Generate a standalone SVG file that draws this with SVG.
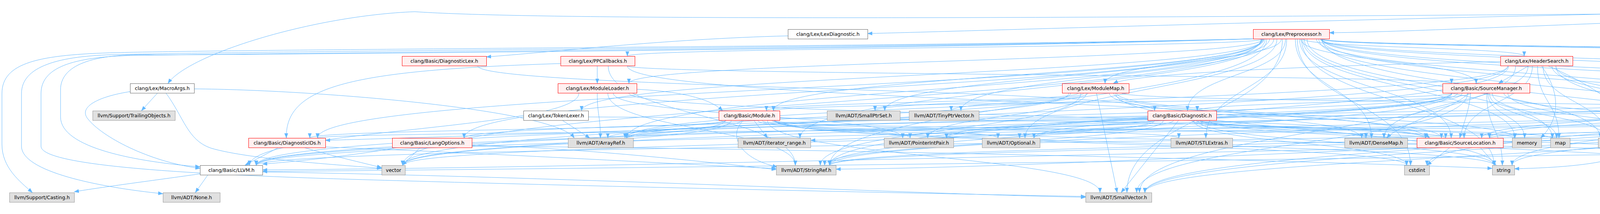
<svg xmlns="http://www.w3.org/2000/svg" width="6455" height="549" viewBox="0 0 6455 549">
<style>
.e{fill:none;stroke:#63b8ff;stroke-width:1;marker-end:url(#ah)}
.node rect{stroke-width:1}
.w rect{fill:#ffffff;stroke:#666666}
.r rect{fill:#fff0f0;stroke:#ff0000}
.x rect{fill:#e0e0e0;stroke:#999999}
.root rect{fill:#999999;stroke:#666666}
text{font-family:'DejaVu Sans','Liberation Sans',sans-serif;font-size:12.4px;text-anchor:middle;fill:#000000}
</style>
<defs>
<marker id="ah" viewBox="0 0 12 10" refX="12" refY="5" markerWidth="12" markerHeight="10" markerUnits="userSpaceOnUse" orient="auto"><path d="M0,0.5 L12,5 L0,9.5 z" fill="#63b8ff" stroke="#63b8ff" stroke-width="0.5"/></marker>
</defs>
<rect width="6455" height="549" fill="#ffffff"/>
<g id="edges">
<!-- root -->
<path class="e" d="M5766,24 C3500,40 1500,60 1062,30 C800,40 480,140 430,214"/>
<path class="e" d="M5766,14 C4500,14 2500,80 2221,86"/>
<path class="e" d="M5766,18 C4800,20 3700,82 3403,84"/>
<path class="e" d="M5815,29 C5700,80 5320,170 5299,214"/>
<path class="e" d="M5922,30 C6040,60 6088,100 6088,160 C6088,280 6010,300 5960,308 C5600,330 5300,360 5024,362"/>
<path class="e" d="M5922,28 L6178,75"/>
<path class="e" d="M5848,29 L5888,284"/>
<!-- MacroArgs.h -->
<path class="e" d="M333,235 C250,248 200,275 225,305 C260,350 380,415 512,432"/>
<path class="e" d="M497,228 C800,230 1420,280 1470,354"/>
<path class="e" d="M403,239 L362,284"/>
<path class="e" d="M425,239 C470,300 480,360 540,380 C640,410 900,425 977,432"/>
<!-- LexDiagnostic / DiagnosticLex -->
<path class="e" d="M2017,92 C1700,100 1400,135 1245,146"/>
<path class="e" d="M1223,169 C1223,227 2956,227 2956,284"/>
<!-- Preprocessor -->
<path class="e" d="M3291,100 C3291,192 3040,192 3040,284"/>
<path class="e" d="M3232,100 C3232,227 813,227 813,354"/>
<path class="e" d="M3370,100 C3370,192 4548,192 4548,284"/>
<path class="e" d="M3228,99 C2400,126 900,138 400,141 C230,135 155,170 155,230 L155,300 C155,380 350,415 512,428"/>
<path class="e" d="M3230,100 C3230,227 1188,227 1188,354"/>
<path class="e" d="M3236,100 C3236,192 1980,192 1980,284"/>
<path class="e" d="M3327,100 C3327,227 3715,227 3715,354"/>
<path class="e" d="M3330,100 C3330,157 3779,157 3779,214"/>
<path class="e" d="M3383,100 C3383,227 5263,227 5263,354"/>
<path class="e" d="M3336,100 C3336,122 3902,122 3902,144"/>
<path class="e" d="M3380,100 C3380,157 4792,157 4792,214"/>
<path class="e" d="M3382,100 C3382,157 5197,157 5197,214"/>
<path class="e" d="M3234,100 C3234,157 1610,157 1610,214"/>
<path class="e" d="M3280,100 C3280,157 2829,157 2829,214"/>
<path class="e" d="M3233,100 C3233,122 1606,122 1606,144"/>
<path class="e" d="M3384,100 C3384,192 5208,192 5208,284"/>
<path class="e" d="M3235,100 C3235,192 1489,192 1489,284"/>
<path class="e" d="M3231,100 C3231,227 1604,227 1604,354"/>
<path class="e" d="M3316,100 C3316,227 3511,227 3511,354"/>
<path class="e" d="M3385,100 C3385,192 5631,192 5631,284"/>
<path class="e" d="M3380,100 C3380,122 4722,122 4722,144"/>
<path class="e" d="M3228,99 C2400,122 700,130 300,140 C150,143 55,170 55,240 L55,375 C55,440 250,480 417,497"/>
<path class="e" d="M3269,100 C3269,227 2624,227 2624,354"/>
<path class="e" d="M3384,100 C3384,122 4941,122 4941,144"/>
<path class="e" d="M3294,100 C3294,227 3087,227 3087,354"/>
<path class="e" d="M3250,100 C3250,192 2265,192 2265,284"/>
<path class="e" d="M3228,99 C2400,124 800,135 350,142 C180,145 105,175 105,240 L105,375 C105,420 400,445 900,460 C1500,478 2300,495 2779,504"/>
<path class="e" d="M3283,100 C3283,297 2885,297 2885,494"/>
<path class="e" d="M3243,100 C3243,262 2124,262 2124,424"/>
<path class="e" d="M3261,100 C3261,192 2460,192 2460,284"/>
<path class="e" d="M3239,100 C3239,227 2048,227 2048,354"/>
<path class="e" d="M3376,100 C3376,227 4659,227 4659,354"/>
<path class="e" d="M3228,99 C2400,120 700,125 300,135 C100,140 5,160 5,240 L5,370 C5,430 50,465 83,494"/>
<path class="e" d="M3386,100 C3386,122 5141,122 5141,144"/>
<path class="e" d="M3385,100 C3385,262 4898,262 4898,424"/>
<path class="e" d="M3346,100 C3346,227 4097,227 4097,354"/>
<path class="e" d="M3321,100 C3321,262 3611,262 3611,424"/>
<path class="e" d="M3339,100 C3339,227 3974,227 3974,354"/>
<path class="e" d="M3335,100 C3335,227 3878,227 3878,354"/>
<path class="e" d="M3332,100 C3332,262 3825,262 3825,424"/>
<path class="e" d="M3228,100 C3228,262 1031,262 1031,424"/>
<!-- PPCallbacks -->
<path class="e" d="M1435,163 C900,180 730,220 733,354"/>
<path class="e" d="M1606,169 C1606,262 3650,262 3650,354"/>
<path class="e" d="M1606,169 C1606,192 3716,192 3716,214"/>
<path class="e" d="M1529,169 L1529,214"/>
<path class="e" d="M1557,169 C1557,297 2036,297 2036,424"/>
<!-- ModuleLoader -->
<path class="e" d="M1482,239 C1482,332 639,332 639,424"/>
<path class="e" d="M1630,229 C1750,235 1820,255 1850,284"/>
<path class="e" d="M1610,239 C1610,297 3650,297 3650,354"/>
<path class="e" d="M1529,239 C1529,297 1537,297 1537,354"/>
<path class="e" d="M1570,239 C1570,297 2311,297 2311,354"/>
<path class="e" d="M1556,239 C1556,332 2036,332 2036,424"/>
<!-- TokenLexer -->
<path class="e" d="M1506,300 C2600,305 3620,320 3660,354"/>
<path class="e" d="M1440,309 L1510,354"/>
<!-- HeaderSearch -->
<path class="e" d="M3923,169 C3923,262 3748,262 3748,354"/>
<path class="e" d="M3913,169 L3836,214"/>
<path class="e" d="M3841,158 C3300,170 2900,190 2850,214"/>
<path class="e" d="M3860,169 C3860,262 1604,262 1604,354"/>
<path class="e" d="M3912,169 C3912,262 3543,262 3543,354"/>
<path class="e" d="M3983,169 C3983,262 4881,262 4881,354"/>
<path class="e" d="M3880,169 C3880,332 2917,332 2917,494"/>
<path class="e" d="M3862,169 C3862,297 2124,297 2124,424"/>
<path class="e" d="M3973,169 C3973,262 4689,262 4689,354"/>
<path class="e" d="M3983,169 C3983,297 4898,297 4898,424"/>
<path class="e" d="M3950,169 C3950,262 4115,262 4115,354"/>
<path class="e" d="M3936,169 C3936,262 3991,262 3991,354"/>
<path class="e" d="M3946,169 C3990,230 4000,300 3944,354"/>
<path class="e" d="M3963,169 C4150,250 4200,330 4190,370 C4170,420 4000,430 3877,433"/>
<path class="e" d="M3860,169 C3860,297 1031,297 1031,424"/>
<!-- ModuleMap -->
<path class="e" d="M2872,239 C2872,262 4534,262 4534,284"/>
<path class="e" d="M2736,239 C2736,332 656,332 656,424"/>
<path class="e" d="M2760,239 C2760,262 1962,262 1962,284"/>
<path class="e" d="M2851,239 C2851,297 3690,297 3690,354"/>
<path class="e" d="M2741,239 C2741,297 1600,297 1600,354"/>
<path class="e" d="M2840,239 C2840,297 3486,297 3486,354"/>
<path class="e" d="M2781,239 C2781,297 2375,297 2375,354"/>
<path class="e" d="M2774,239 C2774,262 2240,262 2240,284"/>
<path class="e" d="M2807,239 L2860,494"/>
<path class="e" d="M2767,239 C2767,332 2100,332 2100,424"/>
<path class="e" d="M2785,239 C2785,262 2435,262 2435,284"/>
<path class="e" d="M2859,239 C2859,297 3878,297 3878,354"/>
<path class="e" d="M2856,239 C2856,332 3825,332 3825,424"/>
<!-- SourceManager -->
<path class="e" d="M3765,239 C3765,262 3065,262 3065,284"/>
<path class="e" d="M3716,239 C3716,332 656,332 656,424"/>
<path class="e" d="M3718,239 C3718,262 1980,262 1980,284"/>
<path class="e" d="M3765,239 C3760,290 3745,320 3737,354"/>
<path class="e" d="M3717,239 C3717,297 1604,297 1604,354"/>
<path class="e" d="M3760,239 C3720,280 3580,320 3550,354"/>
<path class="e" d="M3743,239 C3743,297 2647,297 2647,354"/>
<path class="e" d="M3731,239 C3731,297 2423,297 2423,354"/>
<path class="e" d="M3757,239 C3757,367 2910,367 2910,494"/>
<path class="e" d="M3717,239 C3717,332 2124,332 2124,424"/>
<path class="e" d="M3850,239 C3850,297 4683,297 4683,354"/>
<path class="e" d="M3860,239 C3860,332 4898,332 4898,424"/>
<path class="e" d="M3820,239 C3820,297 4110,297 4110,354"/>
<path class="e" d="M3813,239 C3813,297 3985,297 3985,354"/>
<path class="e" d="M3809,239 C3809,297 3903,297 3903,354"/>
<path class="e" d="M3806,239 C3806,332 3846,332 3846,424"/>
<path class="e" d="M3716,239 C3716,332 1031,332 1031,424"/>
<!-- Lexer -->
<path class="e" d="M4792,239 C4792,297 1188,297 1188,354"/>
<path class="e" d="M4795,239 C4795,297 3793,297 3793,354"/>
<path class="e" d="M4876,239 C4876,297 5317,297 5317,354"/>
<path class="e" d="M4925,233 C5000,240 5100,268 5195,288"/>
<path class="e" d="M4793,239 C4793,297 2647,297 2647,354"/>
<path class="e" d="M4794,239 C4794,367 2931,367 2931,494"/>
<path class="e" d="M4795,239 C4795,332 2124,332 2124,424"/>
<path class="e" d="M4855,239 C4855,332 4921,332 4921,424"/>
<path class="e" d="M4792,239 C4792,332 3653,332 3653,424"/>
<path class="e" d="M4801,239 C4801,332 3871,332 3871,424"/>
<!-- MacroInfo -->
<path class="e" d="M5261,239 L5261,284"/>
<path class="e" d="M5197,239 C5197,332 656,332 656,424"/>
<path class="e" d="M5197,239 C5197,297 3813,297 3813,354"/>
<path class="e" d="M5198,239 C5198,297 1604,297 1604,354"/>
<path class="e" d="M5283,239 C5283,262 5673,262 5673,284"/>
<path class="e" d="M5199,239 C5199,297 2423,297 2423,354"/>
<path class="e" d="M5200,239 C5200,367 2931,367 2931,494"/>
<path class="e" d="M5234,239 C5234,297 4756,297 4756,354"/>
<path class="e" d="M5341,236 C5600,260 5750,280 5849,290"/>
<path class="e" d="M5244,239 C5244,332 4942,332 4942,424"/>
<!-- Token -->
<path class="e" d="M5208,309 C5208,332 3813,332 3813,354"/>
<path class="e" d="M5272,309 L5322,354"/>
<path class="e" d="M5208,309 C5208,367 2124,367 2124,424"/>
<path class="e" d="M5252,309 C5180,380 5050,425 4959,433"/>
<!-- Diagnostic -->
<path class="e" d="M2938,300 C2000,320 1200,350 833,360"/>
<path class="e" d="M3062,309 C3062,332 3701,332 3701,354"/>
<path class="e" d="M2956,309 C2956,332 1604,332 1604,354"/>
<path class="e" d="M3051,309 C3051,332 3497,332 3497,354"/>
<path class="e" d="M3004,309 C3004,332 2610,332 2610,354"/>
<path class="e" d="M3017,309 L2870,494"/>
<path class="e" d="M2978,309 C2978,367 2111,367 2111,424"/>
<path class="e" d="M2940,305 C2600,320 2300,355 2075,360"/>
<path class="e" d="M3096,309 C3096,367 4898,367 4898,424"/>
<path class="e" d="M3056,309 C3056,367 3601,367 3601,424"/>
<path class="e" d="M3074,309 C3074,332 3974,332 3974,354"/>
<path class="e" d="M3070,309 C3070,332 3878,332 3878,354"/>
<path class="e" d="M3067,309 C3067,367 3825,367 3825,424"/>
<path class="e" d="M2956,309 C2956,367 1031,367 1031,424"/>
<!-- DiagnosticIDs -->
<path class="e" d="M712,379 L627,424"/>
<path class="e" d="M833,377 C1300,395 1800,425 1987,432"/>
<path class="e" d="M780,379 C850,400 930,418 977,430"/>
<!-- LangOptions -->
<path class="e" d="M1015,379 C900,400 750,415 672,421"/>
<path class="e" d="M1208,372 C1500,380 1850,420 1987,435"/>
<path class="e" d="M1208,375 C2000,380 3300,410 3820,432"/>
<path class="e" d="M1075,379 L1030,424"/>
<!-- Module -->
<path class="e" d="M1859,309 C1859,332 793,332 793,354"/>
<path class="e" d="M1856,309 C1856,367 656,367 656,424"/>
<path class="e" d="M1980,309 C1980,332 3650,332 3650,354"/>
<path class="e" d="M1899,309 C1899,332 1556,332 1556,354"/>
<path class="e" d="M1951,309 C1951,332 2555,332 2555,354"/>
<path class="e" d="M1940,309 C1940,332 2330,332 2330,354"/>
<path class="e" d="M1976,309 C1976,332 3018,332 3018,354"/>
<path class="e" d="M1965,309 C1965,402 2816,402 2816,494"/>
<path class="e" d="M1903,309 C1860,350 1900,410 1990,428"/>
<path class="e" d="M1930,309 L1965,354"/>
<path class="e" d="M1982,309 C1982,367 4898,367 4898,424"/>
<path class="e" d="M1984,309 C1984,367 3601,367 3601,424"/>
<path class="e" d="M1986,309 C1986,367 3825,367 3825,424"/>
<path class="e" d="M1872,309 C1872,367 1031,367 1031,424"/>
<!-- IdentifierTable -->
<path class="e" d="M4534,309 C4534,332 813,332 813,354"/>
<path class="e" d="M4536,309 C4536,367 656,367 656,424"/>
<path class="e" d="M4649,309 C4649,332 5306,332 5306,354"/>
<path class="e" d="M4538,309 C4538,332 2423,332 2423,354"/>
<path class="e" d="M4629,309 C4629,332 4915,332 4915,354"/>
<path class="e" d="M4540,309 C4540,402 2931,402 2931,494"/>
<path class="e" d="M4542,309 C4542,367 2124,367 2124,424"/>
<path class="e" d="M4630,309 L4710,354"/>
<path class="e" d="M4603,309 C4570,360 4600,410 4892,432"/>
<path class="e" d="M4589,309 C4589,332 4149,332 4149,354"/>
<path class="e" d="M4575,309 C4575,367 3871,367 3871,424"/>
<!-- SourceLocation -->
<path class="e" d="M3650,379 C2800,395 1500,430 672,436"/>
<path class="e" d="M3653,379 C3200,395 2600,430 2140,434"/>
<path class="e" d="M3797,379 C4200,395 4600,430 4892,434"/>
<path class="e" d="M3711,379 L3653,424"/>
<path class="e" d="M3790,379 L3830,424"/>
<!-- TokenKinds -->
<path class="e" d="M5263,379 C4000,400 1800,430 672,440"/>
<!-- LLVM -->
<path class="e" d="M532,449 L500,494"/>
<path class="e" d="M512,446 C400,462 260,480 190,492"/>
<path class="e" d="M672,441 C1500,455 2400,500 2779,506"/>
</g>
<g id="n0" class="node root"><rect x="5766.5" y="4.5" width="156" height="24.5"/><text x="5844.5" y="21">lib/Lex/MacroArgs.cpp</text></g>
<g id="n1" class="node w"><rect x="333.5" y="214.5" width="164" height="24.5"/><text x="415.5" y="231">clang/Lex/MacroArgs.h</text></g>
<g id="n2" class="node x"><rect x="237.5" y="284.5" width="211" height="24.5"/><text x="343" y="301">llvm/Support/TrailingObjects.h</text></g>
<g id="n3" class="node w"><rect x="512.5" y="424.5" width="160" height="24.5"/><text x="592.5" y="441">clang/Basic/LLVM.h</text></g>
<g id="n4" class="node x"><rect x="24.5" y="494.5" width="166" height="24.5"/><text x="107.5" y="511">llvm/Support/Casting.h</text></g>
<g id="n5" class="node x"><rect x="417.5" y="494.5" width="146" height="24.5"/><text x="490.5" y="511">llvm/ADT/None.h</text></g>
<g id="n6" class="node r"><rect x="636.5" y="354.5" width="197" height="24.5"/><text x="735" y="371">clang/Basic/DiagnosticIDs.h</text></g>
<g id="n7" class="node x"><rect x="977.5" y="424.5" width="60" height="24.5"/><text x="1007.5" y="441">vector</text></g>
<g id="n8" class="node r"><rect x="1029.5" y="144.5" width="216" height="24.5"/><text x="1137.5" y="161">clang/Basic/DiagnosticLex.h</text></g>
<g id="n9" class="node r"><rect x="1004.5" y="354.5" width="204" height="24.5"/><text x="1106.5" y="371">clang/Basic/LangOptions.h</text></g>
<g id="n10" class="node r"><rect x="1435.5" y="144.5" width="190" height="24.5"/><text x="1530.5" y="161">clang/Lex/PPCallbacks.h</text></g>
<g id="n11" class="node r"><rect x="1428.5" y="214.5" width="202" height="24.5"/><text x="1529.5" y="231">clang/Lex/ModuleLoader.h</text></g>
<g id="n12" class="node w"><rect x="1340.5" y="284.5" width="166" height="24.5"/><text x="1423.5" y="301">clang/Lex/TokenLexer.h</text></g>
<g id="n13" class="node x"><rect x="1454.5" y="354.5" width="167" height="24.5"/><text x="1538" y="371">llvm/ADT/ArrayRef.h</text></g>
<g id="n14" class="node w"><rect x="2017.5" y="75.5" width="204" height="24.5"/><text x="2119.5" y="91.5">clang/Lex/LexDiagnostic.h</text></g>
<g id="n15" class="node r"><rect x="1840.5" y="284.5" width="156" height="24.5"/><text x="1918.5" y="301">clang/Basic/Module.h</text></g>
<g id="n16" class="node x"><rect x="1889.5" y="354.5" width="186" height="24.5"/><text x="1982.5" y="371">llvm/ADT/iterator_range.h</text></g>
<g id="n17" class="node x"><rect x="1987.5" y="424.5" width="153" height="24.5"/><text x="2064" y="441">llvm/ADT/StringRef.h</text></g>
<g id="n18" class="node x"><rect x="2117.5" y="284.5" width="187" height="24.5"/><text x="2211" y="301">llvm/ADT/SmallPtrSet.h</text></g>
<g id="n19" class="node x"><rect x="2327.5" y="284.5" width="179" height="24.5"/><text x="2417" y="301">llvm/ADT/TinyPtrVector.h</text></g>
<g id="n20" class="node x"><rect x="2263.5" y="354.5" width="178" height="24.5"/><text x="2352.5" y="371">llvm/ADT/PointerIntPair.h</text></g>
<g id="n21" class="node x"><rect x="2514.5" y="354.5" width="148" height="24.5"/><text x="2588.5" y="371">llvm/ADT/Optional.h</text></g>
<g id="n22" class="node r"><rect x="2719.5" y="214.5" width="171" height="24.5"/><text x="2805" y="231">clang/Lex/ModuleMap.h</text></g>
<g id="n23" class="node r"><rect x="2938.5" y="284.5" width="176" height="24.5"/><text x="3026.5" y="301">clang/Basic/Diagnostic.h</text></g>
<g id="n24" class="node x"><rect x="2997.5" y="354.5" width="158" height="24.5"/><text x="3076.5" y="371">llvm/ADT/STLExtras.h</text></g>
<g id="n25" class="node x"><rect x="2779.5" y="494.5" width="169" height="24.5"/><text x="2864" y="511">llvm/ADT/SmallVector.h</text></g>
<g id="n26" class="node r"><rect x="3208.5" y="75.5" width="195" height="24.5"/><text x="3306" y="91.5">clang/Lex/Preprocessor.h</text></g>
<g id="n27" class="node r"><rect x="3693.5" y="214.5" width="223" height="24.5"/><text x="3805" y="231">clang/Basic/SourceManager.h</text></g>
<g id="n28" class="node x"><rect x="3442.5" y="354.5" width="161" height="24.5"/><text x="3523" y="371">llvm/ADT/DenseMap.h</text></g>
<g id="n29" class="node r"><rect x="3627.5" y="354.5" width="221" height="24.5"/><text x="3738" y="371">clang/Basic/SourceLocation.h</text></g>
<g id="n30" class="node x"><rect x="3595.5" y="424.5" width="64" height="24.5"/><text x="3627.5" y="441">cstdint</text></g>
<g id="n31" class="node r"><rect x="3841.5" y="144.5" width="185" height="24.5"/><text x="3934" y="161">clang/Lex/HeaderSearch.h</text></g>
<g id="n32" class="node x"><rect x="3871.5" y="354.5" width="75" height="24.5"/><text x="3909" y="371">memory</text></g>
<g id="n33" class="node x"><rect x="3969.5" y="354.5" width="50" height="24.5"/><text x="3994.5" y="371">map</text></g>
<g id="n34" class="node x"><rect x="4091.5" y="354.5" width="69" height="24.5"/><text x="4126" y="371">cstddef</text></g>
<g id="n35" class="node x"><rect x="3820.5" y="424.5" width="57" height="24.5"/><text x="3849" y="441">string</text></g>
<g id="n36" class="node x"><rect x="4694.5" y="144.5" width="206" height="24.5"/><text x="4797.5" y="161">llvm/ADT/FunctionExtras.h</text></g>
<g id="n37" class="node r"><rect x="4777.5" y="214.5" width="148" height="24.5"/><text x="4851.5" y="231">clang/Lex/Lexer.h</text></g>
<g id="n38" class="node r"><rect x="4514.5" y="284.5" width="198" height="24.5"/><text x="4613.5" y="301">clang/Basic/IdentifierTable.h</text></g>
<g id="n39" class="node x"><rect x="4642.5" y="354.5" width="174" height="24.5"/><text x="4729.5" y="371">llvm/Support/Allocator.h</text></g>
<g id="n40" class="node x"><rect x="4838.5" y="354.5" width="186" height="24.5"/><text x="4931.5" y="371">llvm/ADT/SmallString.h</text></g>
<g id="n41" class="node x"><rect x="4924.5" y="144.5" width="177" height="24.5"/><text x="5013" y="161">llvm/ADT/PointerUnion.h</text></g>
<g id="n42" class="node x"><rect x="5124.5" y="144.5" width="168" height="24.5"/><text x="5208.5" y="161">llvm/Support/Registry.h</text></g>
<g id="n43" class="node w"><rect x="5181.5" y="214.5" width="160" height="24.5"/><text x="5261.5" y="231">clang/Lex/MacroInfo.h</text></g>
<g id="n44" class="node w"><rect x="5195.5" y="284.5" width="133" height="24.5"/><text x="5262" y="301">clang/Lex/Token.h</text></g>
<g id="n45" class="node r"><rect x="5244.5" y="354.5" width="197" height="24.5"/><text x="5343" y="371">clang/Basic/TokenKinds.h</text></g>
<g id="n46" class="node x"><rect x="4892.5" y="424.5" width="67" height="24.5"/><text x="4926" y="441">cassert</text></g>
<g id="n47" class="node x"><rect x="5615.5" y="284.5" width="161" height="24.5"/><text x="5696" y="301">llvm/ADT/FoldingSet.h</text></g>
<g id="n48" class="node x"><rect x="5849.5" y="284.5" width="100" height="24.5"/><text x="5899.5" y="301">algorithm</text></g>
<g id="n49" class="node x"><rect x="6126.5" y="75.5" width="228" height="24.5"/><text x="6240.5" y="91.5">llvm/Support/SaveAndRestore.h</text></g>
</svg>
